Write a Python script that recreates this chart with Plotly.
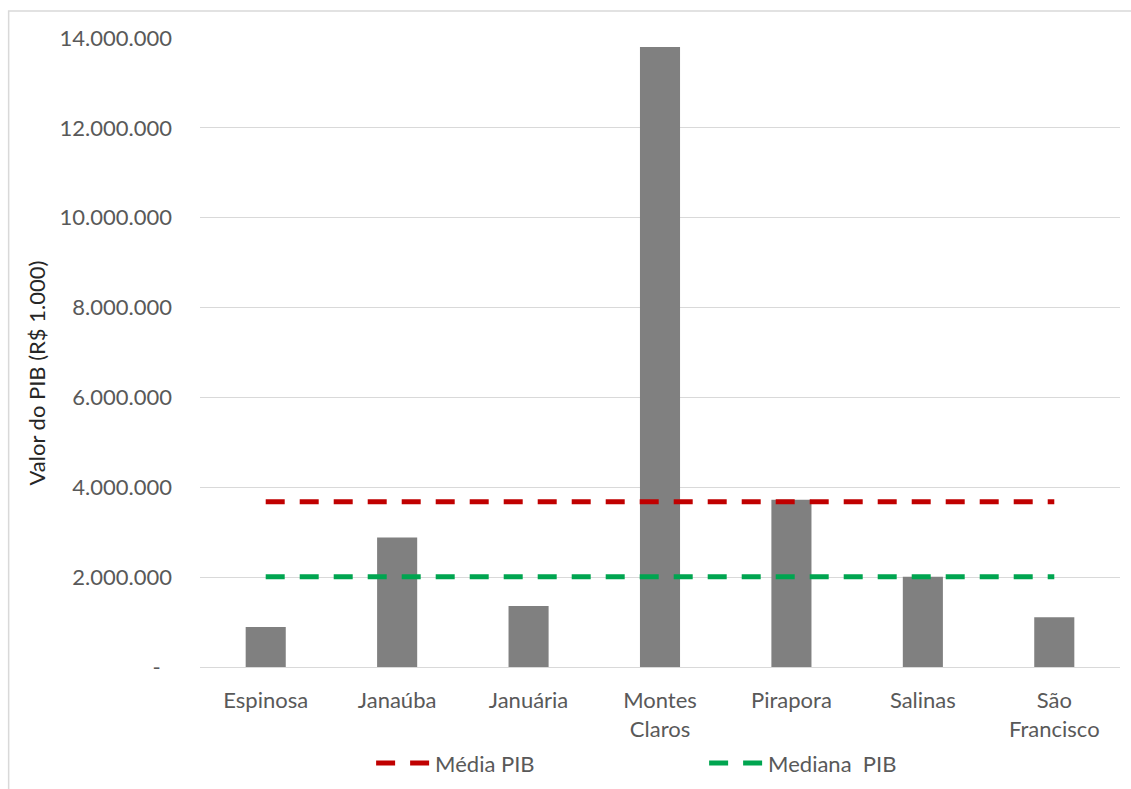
import plotly.graph_objects as go

categories = ["Espinosa", "Janaúba", "Januária", "Montes<br>Claros", "Pirapora", "Salinas", "São<br>Francisco"]
pib_values = [890000, 2880000, 1360000, 13800000, 3720000, 2010000, 1110000]
media_pib = [3680000] * 7
mediana_pib = [2010000] * 7
y_tick_vals = [0, 2000000, 4000000, 6000000, 8000000, 10000000, 12000000, 14000000]
y_tick_text = ["-  ", "2.000.000", "4.000.000", "6.000.000", "8.000.000", "10.000.000", "12.000.000", "14.000.000"]
y_title = "Valor do PIB (R$ 1.000)"

FONT = "Lato"
GRAY_TXT = "#595959"

fig = go.Figure()
fig.add_trace(go.Bar(x=categories, y=pib_values, marker=dict(color="#808080", line=dict(width=0)),
                     showlegend=False))
fig.add_trace(go.Scatter(x=categories, y=media_pib, mode="lines", name="Média PIB",
                         line=dict(color="#C00000", width=5, dash="19px,15px")))
fig.add_trace(go.Scatter(x=categories, y=mediana_pib, mode="lines", name="Mediana  PIB",
                         line=dict(color="#00A550", width=5, dash="19px,15px")))

fig.update_layout(
    width=1131, height=789,
    margin=dict(l=200, r=11, t=38, b=122, autoexpand=False),
    paper_bgcolor="white", plot_bgcolor="white",
    bargap=0.695,
    font=dict(family=FONT, size=22, color=GRAY_TXT),
    legend=dict(orientation="h", x=0.186, xanchor="left", y=-0.153, yanchor="middle",
                font=dict(family=FONT, size=22, color=GRAY_TXT), entrywidth=264, itemwidth=54,
                bgcolor="rgba(0,0,0,0)"),
    xaxis=dict(showgrid=False, showline=True, linecolor="#D9D9D9", linewidth=1,
               tickfont=dict(family=FONT, size=22, color=GRAY_TXT), ticks="", ticklabelstandoff=14),
    yaxis=dict(range=[0, 14000000], tickvals=y_tick_vals, ticktext=y_tick_text,
               showgrid=True, gridcolor="#D9D9D9", gridwidth=1, zeroline=False, showline=False,
               tickfont=dict(family=FONT, size=22, color=GRAY_TXT), ticks="", ticklabelstandoff=27),
    annotations=[dict(text=y_title, xref="paper", yref="paper", x=-0.178, y=0.467,
                      xanchor="center", yanchor="middle", textangle=-90, showarrow=False,
                      font=dict(family=FONT, size=22, color="#262626"))],
    shapes=[dict(type="rect", xref="paper", yref="paper", x0=-0.208, x1=1.2, y0=-0.5, y1=1.043,
                 line=dict(color="#D9D9D9", width=1.5), fillcolor="rgba(0,0,0,0)", layer="below")],
)

fig.write_html("out.html")
